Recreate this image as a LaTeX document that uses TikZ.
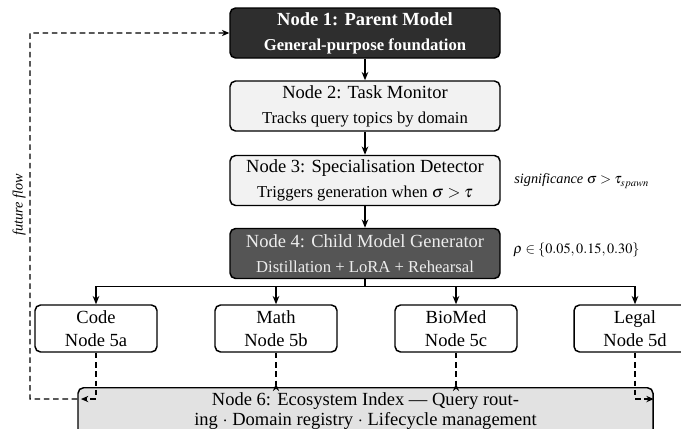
\documentclass[tikz,border=0pt]{standalone}
\usepackage{mathptmx}
\usepackage{fontspec}
\setmainfont{Liberation Serif}
\usetikzlibrary{arrows.meta}
\definecolor{darkA}{HTML}{2E2E2E}
\definecolor{darkB}{HTML}{555555}
\definecolor{lightA}{HTML}{F2F2F2}
\definecolor{idxfill}{HTML}{E2E2E2}
\definecolor{txtB}{HTML}{EDEDED}
\begin{document}
\begin{tikzpicture}[x=0.54pt,y=-0.54pt,
  box/.style={draw=black, line width=0.8pt, rounded corners=3pt, align=center,
    inner sep=0pt, minimum width=270*0.54pt, minimum height=50*0.54pt, font=\fontsize{10}{12.5}\selectfont},
  kid/.style={draw=black, line width=0.8pt, rounded corners=3pt, align=center, fill=white,
    inner sep=0pt, minimum width=122*0.54pt, minimum height=47*0.54pt, font=\fontsize{10}{12.5}\selectfont},
  idx/.style={draw=black, line width=0.8pt, rounded corners=3pt, align=center, fill=idxfill,
    inner xsep=0pt, inner ysep=2.4pt, minimum width=575*0.54pt,
    anchor=north, font=\fontsize{10}{11.3}\selectfont},
  arr/.style={line width=0.7pt, -{Stealth[length=4.5pt,width=3.6pt]}},
  plain/.style={line width=0.7pt},
  dashline/.style={line width=0.6pt, dash pattern=on 3pt off 2pt},
  dasharr/.style={dashline, -{Stealth[length=4pt,width=3.4pt]}},
  dashup/.style={dashline, -{Stealth[length=4pt,width=3.4pt,reversed]}},
  note/.style={anchor=west, inner sep=0pt, font=\fontsize{7.7}{9}\selectfont}
]
\useasboundingbox (0,0) rectangle (681,430);
\clip (0,0) rectangle (681,428);

\node[box, fill=darkA, text=white] (n1) at (365,33)
  {\bfseries Node 1: Parent Model\\[1pt]{\small\bfseries General-purpose foundation}};
\node[box, fill=lightA] (n2) at (365,106)
  {Node 2: Task Monitor\\[1pt]{\small Tracks query topics by domain}};
\node[box, fill=lightA] (n3) at (365,180.5)
  {Node 3: Specialisation Detector\\[1pt]{\small Triggers generation when $\sigma > \tau$}};
\node[box, fill=darkB, text=txtB] (n4) at (365,253.5)
  {Node 4: Child Model Generator\\[1pt]{\small Distillation + LoRA + Rehearsal}};

\node[kid] (c5a) at (96,328.5) {Code\\Node 5a};
\node[kid] (c5b) at (276,328.5) {Math\\Node 5b};
\node[kid] (c5c) at (456,328.5) {BioMed\\Node 5c};
\node[kid] (c5d) at (635,328.5) {Legal\\Node 5d};

\node[idx] (n6) at (365.5,387)
  {Node 6: Ecosystem Index --- Query rout-\\ing $\cdot$ Domain registry $\cdot$ Lifecycle management\\[10pt]\strut};

\node[note] (sig) at (514,181) {\textit{significance} $\sigma > \tau_{spawn}$};
\node[note] (rho) at (513,250) {$\rho \in \{0.05, 0.15, 0.30\}$};
\node[rotate=90, inner sep=0pt, font=\fontsize{7.7}{9}\selectfont\itshape] (fflab) at (19,205) {future flow};

\draw[arr] (n1) -- (n2);
\draw[arr] (n2) -- (n3);
\draw[arr] (n3) -- (n4);
\draw[plain] (n4.south) -- ++(0,7) coordinate (br);
\draw[plain] (c5a.north |- br) -- (c5d.north |- br);
\draw[arr] (c5a.north |- br) -- (c5a.north);
\draw[arr] (c5b.north |- br) -- (c5b.north);
\draw[arr] (c5c.north |- br) -- (c5c.north);
\draw[arr] (c5d.north |- br) -- (c5d.north);

\coordinate (L) at ([yshift=-6.5pt]n6.north west);
\coordinate (R) at ([yshift=-6.5pt]n6.north east);
\coordinate (ff) at (30,399);
\draw[dasharr] (c5a.south) |- ([xshift=2pt]L);
\draw[dasharr] (c5d.south) |- (R);
\draw[dashup] (c5b.south) -- ([yshift=-2.2pt]c5b.south |- n6.north);
\draw[dashup] (c5c.south) -- ([yshift=-2.2pt]c5c.south |- n6.north);
\draw[dasharr] (L) -- (ff) |- (n1.west);
\end{tikzpicture}
\end{document}
